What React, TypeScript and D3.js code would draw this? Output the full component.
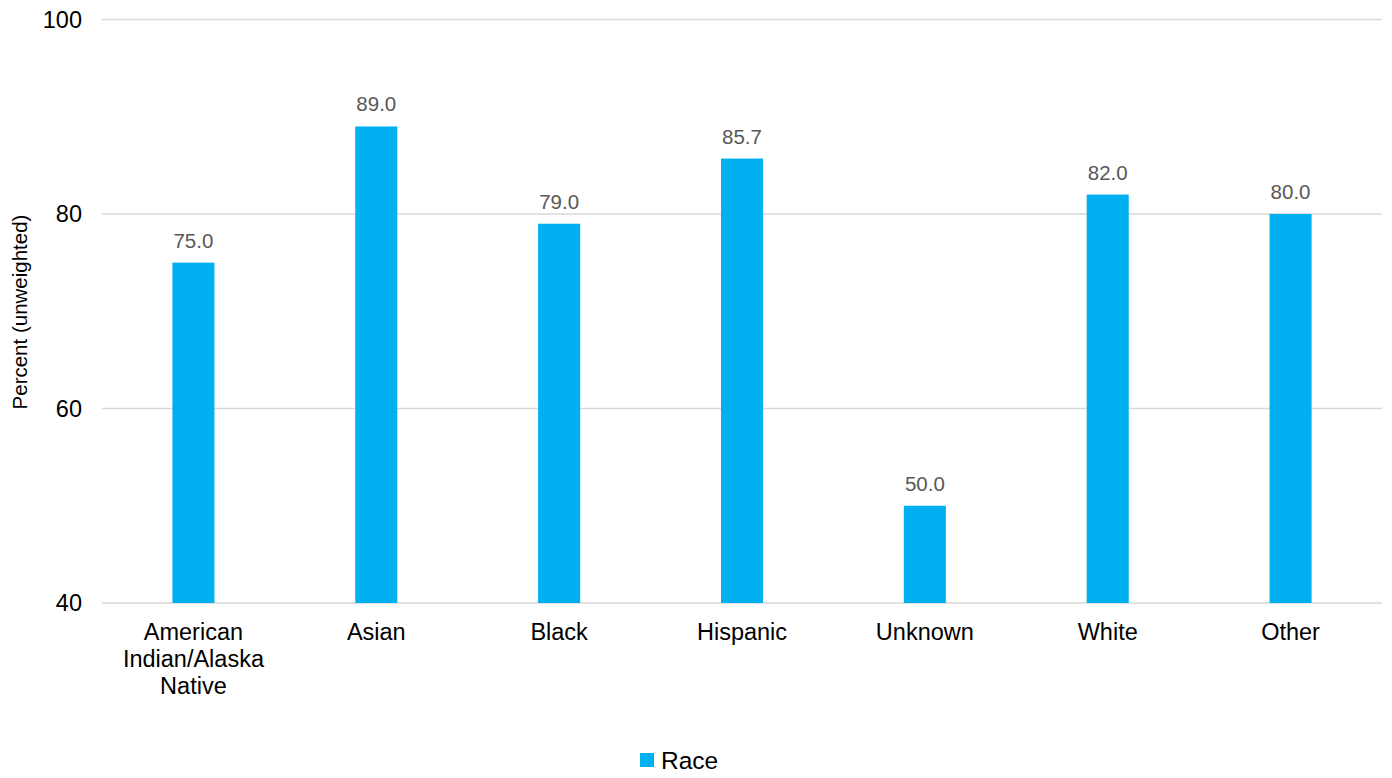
import React from "react";
import * as d3 from "d3";

const categories = ["American Indian/Alaska Native", "Asian", "Black", "Hispanic", "Unknown", "White", "Other"];
const categoryLines = [["American", "Indian/Alaska", "Native"], ["Asian"], ["Black"], ["Hispanic"], ["Unknown"], ["White"], ["Other"]];
const values = [75.0, 89.0, 79.0, 85.7, 50.0, 82.0, 80.0];
const yTicks = [40, 60, 80, 100];
const seriesName = "Race";

const W = 1392, H = 778;
const left = 102, right = 1382, top = 19.5, bottom = 603;
const BLUE = "#00B0F0";
const FONT = "'Liberation Sans', Arial, sans-serif";

export default function App() {
  const x = d3.scaleBand<string>().domain(categories).range([left, right]).paddingInner(0.77).paddingOuter(0.385);
  const y = d3.scaleLinear().domain([40, 100]).range([bottom, top]);
  return (
    <svg width={W} height={H} style={{ position: "absolute", left: 0, top: 0, fontFamily: FONT }}>
      <rect width={W} height={H} fill="#fff" />
      {yTicks.map((t) => (
        <g key={t}>
          <line x1={left} x2={right} y1={y(t)} y2={y(t)} stroke="#d9d9d9" strokeWidth={1.3} />
          <text x={82} y={y(t)} dy="0.35em" textAnchor="end" fontSize={23.5} fill="#000">{t}</text>
        </g>
      ))}
      {categories.map((c, i) => (
        <g key={c}>
          <rect x={x(c)} y={y(values[i])} width={x.bandwidth()} height={bottom - y(values[i])} fill={BLUE} />
          <text x={x(c)! + x.bandwidth() / 2} y={y(values[i]) - 15} textAnchor="middle" fontSize={20.5} fill="#595959">{values[i].toFixed(1)}</text>
          {categoryLines[i].map((ln, j) => (
            <text key={j} x={x(c)! + x.bandwidth() / 2} y={640 + j * 27} textAnchor="middle" fontSize={23.5} fill="#000">{ln}</text>
          ))}
        </g>
      ))}
      <text transform={`translate(27,312) rotate(-90)`} textAnchor="middle" fontSize={20.5} fill="#000">Percent (unweighted)</text>
      <rect x={640} y={753} width={14} height={14} fill={BLUE} />
      <text x={661} y={769} fontSize={24.5} fill="#000">{seriesName}</text>
    </svg>
  );
}
